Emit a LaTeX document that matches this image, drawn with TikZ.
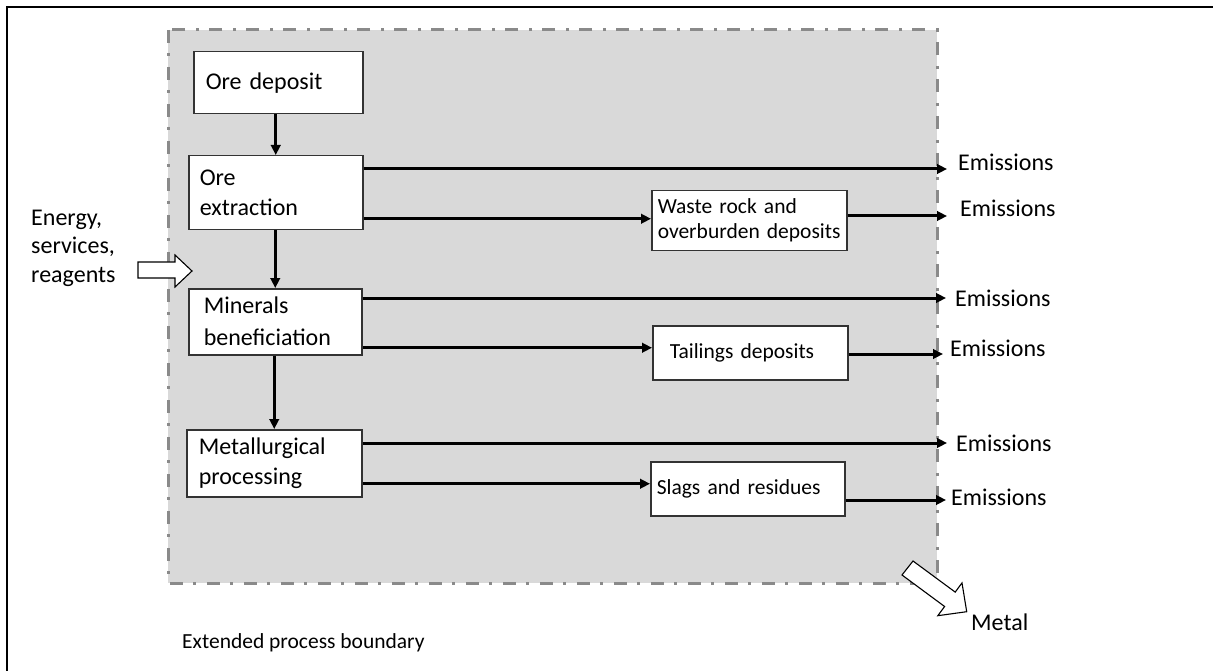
\documentclass[tikz,border=0pt]{standalone}
\usepackage{fontspec}
\setmainfont{Carlito}
\usetikzlibrary{arrows.meta}
\definecolor{regiongray}{HTML}{D9D9D9}
\definecolor{bordergray}{HTML}{8A8A8A}
\definecolor{boxline}{HTML}{333333}
\begin{document}
\begin{tikzpicture}[x=1pt,y=-1pt,
  bigfont/.style={font=\fontsize{24}{30}\selectfont},
  smallfont/.style={font=\fontsize{21.5}{25}\selectfont},
  procbox/.style={draw=boxline, fill=white, line width=1.5pt, align=left, inner ysep=0pt, anchor=north west},
  flow/.style={line width=3pt, -{Triangle[length=10pt,width=9.5pt]}},
  emtext/.style={bigfont, anchor=west, inner sep=0pt},
  hollow/.style={draw=black, fill=white, line width=1.1pt, line join=miter},
]
\useasboundingbox (0,0) rectangle (1213,671);
% outer frame (top and left edges)
\draw[line width=2.5pt] (7,671) -- (7,7) -- (1213,7);
% process region
\fill[regiongray] (168,30) rectangle (937,583);
\draw[bordergray, line width=3pt, dash pattern=on 13pt off 10pt on 3pt off 11pt] (168,30) rectangle (937,583);

% process boxes
\node[procbox, bigfont, minimum width=169pt, minimum height=62pt, inner xsep=12pt, text width=145pt] (ore) at (193,51) {Ore deposit};
\node[procbox, bigfont, minimum width=174pt, minimum height=74pt, inner xsep=11pt, text width=152pt] (ext) at (188,155) {Ore\\extraction};
\node[procbox, bigfont, minimum width=173pt, minimum height=66pt, inner xsep=15pt, text width=143pt, font=\fontsize{24}{32}\selectfont] (ben) at (188,288) {Minerals\\beneficiation};
\node[procbox, bigfont, minimum width=175pt, minimum height=67pt, inner xsep=12pt, text width=151pt] (met) at (186,429) {Metallurgical\\processing};

% deposit boxes
\node[procbox, smallfont, minimum width=195pt, minimum height=60pt, inner xsep=6pt, text width=183pt] (waste) at (651,190) {Waste rock and\\overburden deposits};
\node[procbox, smallfont, minimum width=195pt, minimum height=54pt, inner xsep=17pt, text width=161pt] (tail) at (652,325) {Tailings deposits};
\node[procbox, smallfont, minimum width=194pt, minimum height=54pt, inner xsep=6pt, text width=182pt] (slag) at (650,461) {Slags and residues};

% emission labels
\node[emtext] (em1) at (958,162) {Emissions};
\node[emtext] (em2) at (960,208) {Emissions};
\node[emtext] (em3) at (955,298) {Emissions};
\node[emtext] (em4) at (950,348) {Emissions};
\node[emtext] (em5) at (956,443) {Emissions};
\node[emtext] (em6) at (951,497) {Emissions};

% arrow end points
\coordinate (e1) at (947,169);
\coordinate (e2) at (947,216);
\coordinate (e3) at (946,298);
\coordinate (e4) at (943,354);
\coordinate (e5) at (947,443);
\coordinate (e6) at (946,500);

% vertical flow
\draw[flow] (ext.north |- ore.south) -- (ext.north);
\draw[flow] (ben.north |- ext.south) -- (ben.north);
\draw[flow] (met.north |- ben.south) -- (met.north);

% horizontal flows
\draw[flow] (ext.east |- e1) -- (e1);
\draw[flow] ([yshift=2pt]ext.east |- waste.west) -- ([yshift=2pt]waste.west);
\draw[flow] (waste.east |- e2) -- (e2);
\draw[flow] (ben.east |- e3) -- (e3);
\draw[flow] ([yshift=5pt]tail.west -| ben.east) -- ([yshift=5pt]tail.west);
\draw[flow] (tail.east |- e4) -- (e4);
\draw[flow] (met.east |- e5) -- (e5);
\draw[flow] ([yshift=5pt]slag.west -| met.east) -- ([yshift=5pt]slag.west);
\draw[flow] (slag.east |- e6) -- (e6);

% input / output labels
\node[bigfont, anchor=west, align=left, inner sep=0pt, font=\fontsize{24}{28.5}\selectfont] (energy) at (31,248) {Energy,\\services,\\reagents};
\node[bigfont, anchor=west, inner sep=0pt] (metal) at (971,622) {Metal};
\node[smallfont, anchor=west, inner sep=0pt] (boundary) at (182,643) {Extended process boundary};

% hollow block arrows
\draw[hollow] (138,262) -- (175,262) -- (175,255) -- (192,271) -- (175,287) -- (175,278) -- (138,278) -- cycle;
\draw[hollow] (902,575) -- (913,561) -- (955.2,592.1) -- (962,582.9) -- (966.7,611.7) -- (937.8,615.7) -- (944.6,606.5) -- cycle;
\end{tikzpicture}
\end{document}
